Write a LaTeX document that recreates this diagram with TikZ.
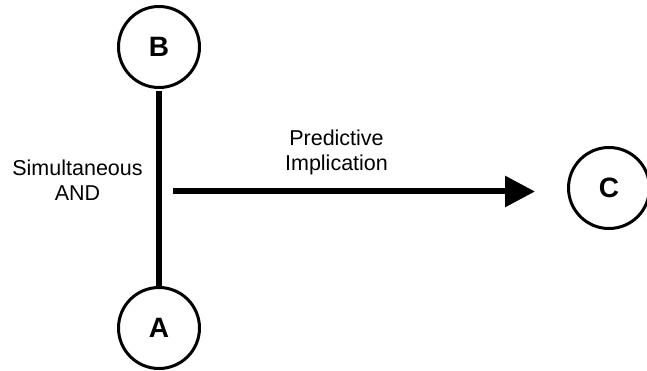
\documentclass[tikz,border=0pt]{standalone}
\usepackage{fontspec}
\setmainfont{Liberation Sans}
\usetikzlibrary{automata,positioning,arrows.meta}

\begin{document}
\begin{tikzpicture}[x=1pt,y=-1pt,node distance=281pt, on grid, auto,
        every state/.style={draw,line width=3pt,minimum size=81pt,inner sep=0pt,
            font=\fontsize{28}{30}\selectfont\bfseries},
        lbl/.style={align=center,font=\fontsize{21.5}{25}\selectfont}]
        \useasboundingbox (0,0) rectangle (647,371);
        \node[state] (b) at (159,47) {B};
        \node[state] (a) [below=of b] {A};
        \node[state] (c) [below right=141pt and 450pt of b] {C};
        \coordinate (andpt) at (173,191.5);
        \node[lbl] (simand) at (77.5,180.5) {Simultaneous\\AND};
        \node[lbl] (predimp) at (336.5,152.5) {Predictive\\Implication};
        \path[-]
        (b)
        edge[line width=6pt,shorten <=2pt] node {} (a);
        \draw[line width=6pt,-{Triangle[length=30pt,width=30pt]},shorten >=32pt]
        (andpt) -- (andpt -| c.west);
    \end{tikzpicture}
\end{document}
